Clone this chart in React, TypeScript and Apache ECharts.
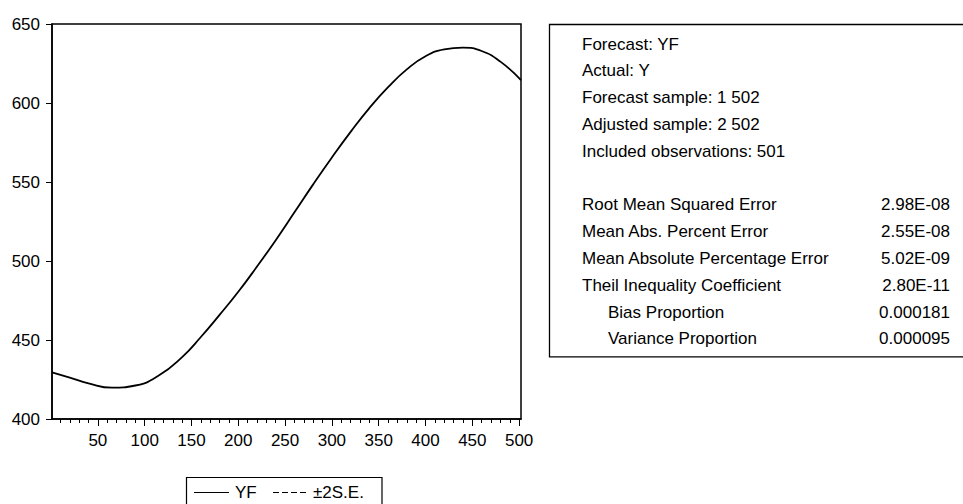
import React, { useEffect, useRef } from "react";
import * as echarts from "echarts";

// Forecast path of YF over observations 1..502
const obsX = [1, 20, 40, 65, 90, 115, 140, 160, 180, 200, 220, 240, 260, 280, 300, 320, 340, 360, 380, 400, 420, 440, 460, 480, 502];
const yfValues = [
  429.5, 426.2, 422.6, 419.8, 421.2, 427.5, 439.2, 451.9, 465.9, 480.5, 496.5, 513.2, 530.8,
  548.5, 565.5, 581.7, 596.8, 610, 621.3, 629.6, 633.9, 635, 632.9, 626.2, 614.5,
];

// Axis ticks
const xLabelTicks = [50, 100, 150, 200, 250, 300, 350, 400, 450, 500];
const xMinorTicks = Array.from({ length: 50 }, (_, i) => (i + 1) * 10);

// Legend entries
const legendNames = ["YF", "±2S.E."];

// Forecast evaluation statistics
const infoLines = [
  "Forecast: YF",
  "Actual: Y",
  "Forecast sample: 1 502",
  "Adjusted sample: 2 502",
  "Included observations: 501",
];
const statNames = [
  "Root Mean Squared Error",
  "Mean Abs. Percent Error",
  "Mean Absolute Percentage Error",
  "Theil Inequality Coefficient",
  "Bias Proportion",
  "Variance Proportion",
];
const statValues = ["2.98E-08", "2.55E-08", "5.02E-09", "2.80E-11", "0.000181", "0.000095"];
const statIndented = [false, false, false, false, true, true];

const FONT = '"Liberation Sans", Arial, sans-serif';

export default function App() {
  const ref = useRef<HTMLDivElement>(null);

  useEffect(() => {
    if (!ref.current) return;
    const chart = echarts.init(ref.current, undefined, { renderer: "svg" });

    const textStyle = (text: string, align: string = "left") => ({
      text,
      font: `17px ${FONT}`,
      fill: "#000",
      textAlign: align,
      textVerticalAlign: "middle",
    });

    // statistics panel
    const rowH = 26.8;
    const firstRow = 44;
    const panel: any[] = [];
    infoLines.forEach((t, i) => {
      panel.push({ type: "text", x: 582, y: firstRow + i * rowH, style: textStyle(t) });
    });
    statNames.forEach((t, i) => {
      const y = firstRow + (infoLines.length + 1 + i) * rowH;
      panel.push({ type: "text", x: statIndented[i] ? 608 : 582, y, style: textStyle(t) });
      panel.push({ type: "text", x: 950, y, style: textStyle(statValues[i], "right") });
    });
    const boxBottom = firstRow + (infoLines.length + statNames.length) * rowH + 18;

    // legend box below the plot
    const legY = 492.5;
    const legend: any[] = [
      {
        type: "rect",
        shape: { x: 186.5, y: 477.5, width: 195.5, height: 40 },
        style: { fill: "#fff", stroke: "#000", lineWidth: 1.2 },
      },
      {
        type: "line",
        shape: { x1: 194, y1: legY, x2: 229, y2: legY },
        style: { stroke: "#000", lineWidth: 1.2 },
      },
      { type: "text", x: 235, y: legY, style: textStyle(legendNames[0]) },
      {
        type: "line",
        shape: { x1: 273, y1: legY, x2: 308, y2: legY },
        style: { stroke: "#000", lineWidth: 1.2, lineDash: [6, 3] },
      },
      { type: "text", x: 313, y: legY, style: textStyle(legendNames[1]) },
    ];

    const axisText = { color: "#000", fontSize: 17, fontFamily: FONT };

    chart.setOption({
      animation: false,
      backgroundColor: "#fff",
      grid: {
        left: 52,
        top: 24,
        width: 469,
        height: 395,
        show: true,
        borderColor: "#000",
        borderWidth: 1.5,
        backgroundColor: "transparent",
      },
      xAxis: [
        {
          type: "value",
          min: 1,
          max: 502,
          position: "bottom",
          axisLine: { show: true, lineStyle: { color: "#000", width: 1.5 } },
          axisTick: {
            show: true,
            length: 4,
            customValues: xMinorTicks,
            lineStyle: { color: "#000", width: 1 },
          },
          axisLabel: { show: false },
          splitLine: { show: false },
        },
        {
          type: "value",
          min: 1,
          max: 502,
          position: "bottom",
          axisLine: { show: false },
          axisTick: {
            show: true,
            length: 7,
            customValues: xLabelTicks,
            lineStyle: { color: "#000", width: 1 },
          },
          axisLabel: {
            show: true,
            customValues: xLabelTicks,
            margin: 13,
            ...axisText,
          },
          splitLine: { show: false },
        },
      ],
      yAxis: {
        type: "value",
        min: 400,
        max: 650,
        interval: 50,
        axisLine: { show: true, lineStyle: { color: "#000", width: 1.5 } },
        axisTick: { show: true, length: 6, lineStyle: { color: "#000", width: 1 } },
        axisLabel: { margin: 12, ...axisText },
        splitLine: { show: false },
      },
      series: [
        {
          name: legendNames[0],
          type: "line",
          xAxisIndex: 0,
          data: obsX.map((x, i) => [x, yfValues[i]]),
          smooth: 0.5,
          showSymbol: false,
          symbol: "none",
          lineStyle: { color: "#000", width: 1.8 },
          itemStyle: { color: "#000" },
        },
      ],
      graphic: [
        {
          type: "rect",
          shape: { x: 549.5, y: 24.5, width: 500, height: boxBottom - 24.5 },
          style: { fill: "none", stroke: "#000", lineWidth: 1.3 },
          silent: true,
        },
        ...panel,
        ...legend,
      ],
    });

    return () => chart.dispose();
  }, []);

  return (
    <div
      ref={ref}
      style={{ position: "absolute", left: 0, top: 0, width: 963, height: 504, background: "#fff" }}
    />
  );
}
